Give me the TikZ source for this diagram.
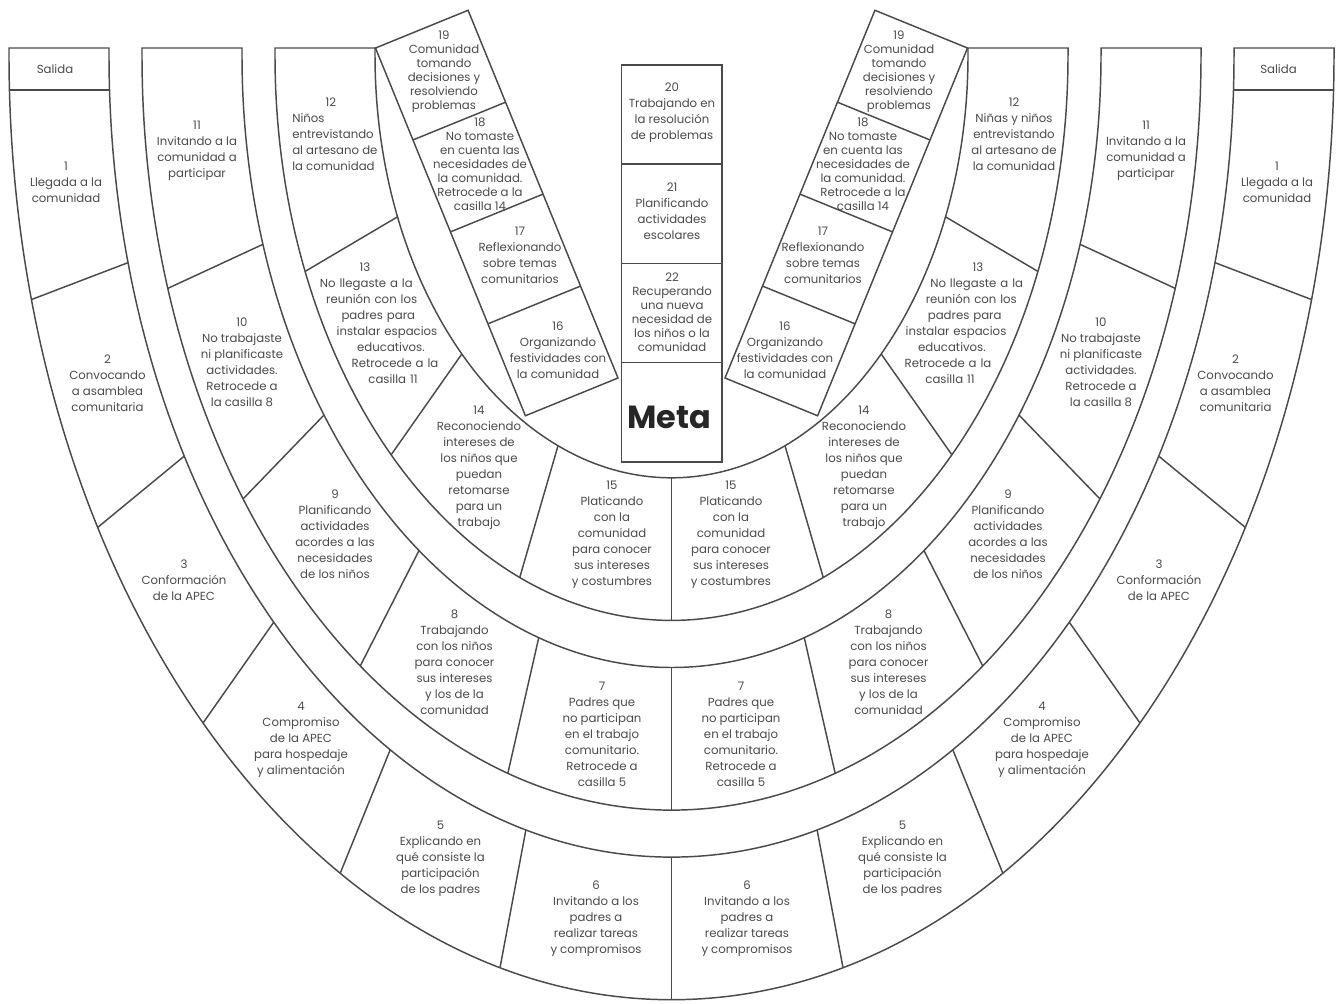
\documentclass[tikz,border=0pt]{standalone}
\usepackage{fontspec}
\setmainfont{Poppins}
\definecolor{lncol}{HTML}{4A4A4A}
\definecolor{txcol}{HTML}{4A4A4A}
\begin{document}
\begin{tikzpicture}[x=0.75pt,y=-0.75pt,
  edge/.style={draw=lncol,line width=1.1pt,line join=miter},
  lbl/.style={align=center,text=txcol,inner sep=0pt,font=\fontsize{8.8}{12}\selectfont},
  tightlbl/.style={font=\fontsize{8.8}{10.5}\selectfont},
  metalbl/.style={text=black!85,inner sep=0pt,font=\bfseries\fontsize{24}{30}\selectfont}]
\useasboundingbox (0,0) rectangle (1337,1003);
\begin{scope}[shift={(671.5,55)}]
  % band 1 (outer)
  \draw[edge] (-662.5,-7) -- (-662.5,0) arc[start angle=180,end angle=0,x radius=662.5,y radius=944.7]
    -- (662.5,-7) -- (562.5,-7) -- (562.5,0) arc[start angle=0,end angle=180,x radius=562.5,y radius=802.1]
    -- (-562.5,-7) -- cycle;
  % band 2
  \draw[edge] (-529.5,-7) -- (-529.5,0) arc[start angle=180,end angle=0,x radius=529.5,y radius=755.1]
    -- (529.5,-7) -- (429.5,-7) -- (429.5,0) arc[start angle=0,end angle=180,x radius=429.5,y radius=612.5]
    -- (-429.5,-7) -- cycle;
  % band 3
  \draw[edge] (-396.5,-7) -- (-396.5,0) arc[start angle=180,end angle=0,x radius=396.5,y radius=565.4]
    -- (396.5,-7) -- (296.5,-7) -- (296.5,0) arc[start angle=0,end angle=180,x radius=296.5,y radius=422.8]
    -- (-296.5,-7) -- cycle;
  % dividers
  \foreach \t in {15,30,45,60,75,90,105,120,135,150,165}
    \draw[edge] (\t:562.5 and 802.1) -- (\t:662.5 and 944.7);
  \foreach \t in {18,36,54,72,90,108,126,144,162}
    \draw[edge] (\t:429.5 and 612.5) -- (\t:529.5 and 755.1);
  \foreach \t in {22.5,45,67.5,90,112.5,135,157.5}
    \draw[edge] (\t:296.5 and 422.8) -- (\t:396.5 and 565.4);
  \draw[edge] (-662,35) -- (-562,35);
  \draw[edge] (562,35) -- (662,35);
\end{scope}
% left tilted strip
\draw[edge] (618,378) -- (468.08,10.28) -- (375.48,48.03) -- (525.4,415.75) -- cycle;
\draw[edge] (580.52,286.07) -- (487.92,323.82);
\draw[edge] (543.04,194.14) -- (450.44,231.89);
\draw[edge] (505.56,102.21) -- (412.96,139.96);
% right tilted strip
\draw[edge] (725,378) -- (874.92,10.28) -- (967.52,48.03) -- (817.6,415.75) -- cycle;
\draw[edge] (762.48,286.07) -- (855.08,323.82);
\draw[edge] (799.96,194.14) -- (892.56,231.89);
\draw[edge] (837.44,102.21) -- (930.04,139.96);
% centre column
\draw[edge] (621.5,65) rectangle (722,462);
\draw[edge] (621.5,164) -- (722,164);
\draw[edge] (621.5,263.3) -- (722,263.3);
\draw[edge] (621.5,362.7) -- (722,362.7);

% ---------- left texts ----------
\node[lbl] (sl) at (55,69.5) {Salida};
\node[lbl] (l1) at (66,182) {1\\Llegada a la\\comunidad};
\node[lbl] (l2) at (107.5,383) {2\\Convocando\\a asamblea\\comunitaria};
\node[lbl] (l3) at (184,580.5) {3\\Conformación\\de la APEC};
\node[lbl] (l4) at (301,739.5) {4\\Compromiso\\de la APEC\\para hospedaje\\y alimentación};
\node[lbl] (l5) at (440.5,859) {5\\Explicando en\\qué consiste la\\participación\\de los padres};
\node[lbl] (l6) at (596,919) {6\\Invitando a los\\padres a\\realizar tareas\\y compromisos};
\node[lbl] (l7) at (602,734.5) {7\\Padres que\\no participan\\en el trabajo\\comunitario.\\Retrocede a\\casilla 5};
\node[lbl] (l8) at (454.5,662) {8\\Trabajando\\con los niños\\para conocer\\sus intereses\\y los de la\\comunidad};
\node[lbl] (l9) at (335,534) {9\\Planificando\\actividades\\acordes a las\\necesidades\\de los niños};
\node[lbl] (l10) at (242,362) {10\\No trabajaste\\ni planificaste\\actividades.\\Retrocede a\\la casilla 8};
\node[lbl] (l11) at (197,151) {11\\Invitando a la\\comunidad a\\participar};
\node[lbl,align=left,anchor=west] (l12) at (292,134) {\hspace*{25pt}12\\Niños\\entrevistando\\al artesano de\\la comunidad};
\node[lbl,text width=135pt] (l13) at (365,323) {13\\\hspace*{2pt}No llegaste a la\\\hspace*{10pt}reunión con los\\\hspace*{20pt}padres para\\\hspace*{33pt}instalar espacios\\\hspace*{39pt}educativos.\\\hspace*{45pt}Retrocede a la\\\hspace*{42pt}casilla 11};
\node[lbl] (l14) at (479,468) {14\\Reconociendo\\intereses de\\los niños que\\puedan\\retomarse\\para un\\trabajo};
\node[lbl] (l15) at (612,535) {15\\Platicando\\con la\\comunidad\\para conocer\\sus intereses\\y costumbres};
\node[lbl] (l16) at (558,350.5) {16\\Organizando\\festividades con\\la comunidad};
\node[lbl] (l17) at (520,255) {17\\Reflexionando\\sobre temas\\comunitarios};
\node[lbl,tightlbl] (l18) at (480,164.5) {18\\No tomaste\\en cuenta las\\necesidades de\\la comunidad.\\Retrocede a la\\casilla 14};
\node[lbl,tightlbl] (l19) at (444,72) {19\\Comunidad\\tomando\\decisiones y\\resolviendo\\problemas};

% ---------- centre texts ----------
\node[lbl] (c20) at (672,112.5) {20\\Trabajando en\\la resolución\\de problemas};
\node[lbl] (c21) at (672,211.5) {21\\Planificando\\actividades\\escolares};
\node[lbl,tightlbl] (c22) at (672,312) {22\\Recuperando\\una nueva\\necesidad de\\los niños o la\\comunidad};
\node[metalbl] (meta) at (669.5,417.5) {Meta};

% ---------- right texts ----------
\node[lbl] (sr) at (1278.5,69.5) {Salida};
\node[lbl] (r1) at (1277,182) {1\\Llegada a la\\comunidad};
\node[lbl] (r2) at (1235.5,383) {2\\Convocando\\a asamblea\\comunitaria};
\node[lbl] (r3) at (1159,580.5) {3\\Conformación\\de la APEC};
\node[lbl] (r4) at (1042,739.5) {4\\Compromiso\\de la APEC\\para hospedaje\\y alimentación};
\node[lbl] (r5) at (902.5,859) {5\\Explicando en\\qué consiste la\\participación\\de los padres};
\node[lbl] (r6) at (747,919) {6\\Invitando a los\\padres a\\realizar tareas\\y compromisos};
\node[lbl] (r7) at (741,734.5) {7\\Padres que\\no participan\\en el trabajo\\comunitario.\\Retrocede a\\casilla 5};
\node[lbl] (r8) at (888.5,662) {8\\Trabajando\\con los niños\\para conocer\\sus intereses\\y los de la\\comunidad};
\node[lbl] (r9) at (1008,534) {9\\Planificando\\actividades\\acordes a las\\necesidades\\de los niños};
\node[lbl] (r10) at (1101,362) {10\\No trabajaste\\ni planificaste\\actividades.\\Retrocede a\\la casilla 8};
\node[lbl] (r11) at (1146,151) {11\\Invitando a la\\comunidad a\\participar};
\node[lbl] (r12) at (1014,134) {12\\Niñas y niños\\entrevistando\\al artesano de\\la comunidad};
\node[lbl,text width=135pt] (r13) at (978,323) {13\\No llegaste a la\hspace*{2pt}\null\\reunión con los\hspace*{10pt}\null\\padres para\hspace*{20pt}\null\\instalar espacios\hspace*{33pt}\null\\educativos.\hspace*{39pt}\null\\Retrocede a la\hspace*{45pt}\null\\casilla 11\hspace*{42pt}\null};
\node[lbl] (r14) at (864,468) {14\\Reconociendo\\intereses de\\los niños que\\puedan\\retomarse\\para un\\trabajo};
\node[lbl] (r15) at (731,535) {15\\Platicando\\con la\\comunidad\\para conocer\\sus intereses\\y costumbres};
\node[lbl] (r16) at (785,350.5) {16\\Organizando\\festividades con\\la comunidad};
\node[lbl] (r17) at (823,255) {17\\Reflexionando\\sobre temas\\comunitarios};
\node[lbl,tightlbl] (r18) at (863,164.5) {18\\No tomaste\\en cuenta las\\necesidades de\\la comunidad.\\Retrocede a la\\casilla 14};
\node[lbl,tightlbl] (r19) at (899,72) {19\\Comunidad\\tomando\\decisiones y\\resolviendo\\problemas};
\end{tikzpicture}
\end{document}
